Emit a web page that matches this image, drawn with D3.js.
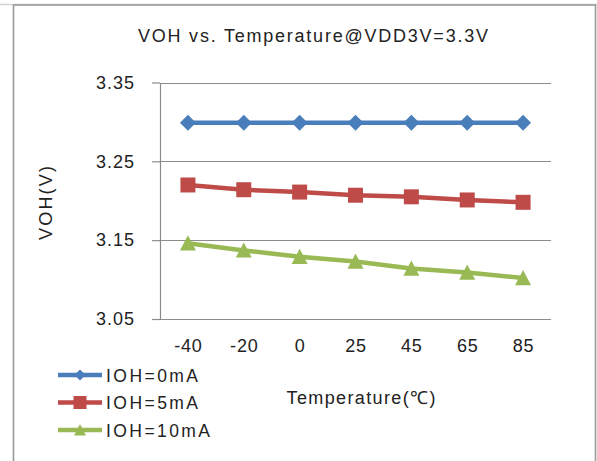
<!DOCTYPE html>
<html>
<head>
<meta charset="utf-8">
<script src="https://cdn.jsdelivr.net/npm/d3@7"></script>
<style>
  body { margin: 0; background: #fff; }
  svg { display: block; font-family: "Liberation Sans", Arial, sans-serif; }
</style>
</head>
<body>
<div id="chart"></div>
<script>
var temps = ["-40", "-20", "0", "25", "45", "65", "85"]
var ioh0 = [3.299, 3.299, 3.299, 3.299, 3.299, 3.299, 3.299]
var ioh5 = [3.220, 3.214, 3.211, 3.207, 3.205, 3.201, 3.198]
var ioh10 = [3.146, 3.137, 3.129, 3.123, 3.114, 3.109, 3.102]
var yTicks = [3.05, 3.15, 3.25, 3.35]
var seriesNames = ["IOH=0mA", "IOH=5mA", "IOH=10mA"]

var series = [
  {name: seriesNames[0], values: ioh0, color: "#4a7ebb", marker: "diamond", legendLen: 92},
  {name: seriesNames[1], values: ioh5, color: "#be4b48", marker: "square", legendLen: 92},
  {name: seriesNames[2], values: ioh10, color: "#98b954", marker: "triangle", legendLen: 104}
]

var width = 597, height = 461
var plot = {left: 160, right: 551, top: 82.5, bottom: 319}

var svg = d3.select("#chart").append("svg")
  .attr("width", width)
  .attr("height", height)

svg.append("rect")
  .attr("width", width)
  .attr("height", height)
  .attr("fill", "#fff")

// outer chart frame
svg.append("line")
  .attr("x1", 0).attr("x2", width)
  .attr("y1", 4.5).attr("y2", 4.5)
  .attr("stroke", "#d4d4d4")
  .attr("stroke-width", 1.5)

svg.append("rect")
  .attr("x", 13.5)
  .attr("y", 5)
  .attr("width", 582)
  .attr("height", 470)
  .attr("fill", "#fff")
  .attr("stroke", "#9a9a9a")
  .attr("stroke-width", 1.6)

var x = d3.scalePoint()
  .domain(temps)
  .range([plot.left, plot.right])
  .padding(0.5)

var y = d3.scaleLinear()
  .domain([3.05, 3.35])
  .range([plot.bottom, plot.top])

// gridlines
svg.append("g")
  .selectAll("line")
  .data(yTicks)
  .join("line")
  .attr("x1", plot.left)
  .attr("x2", plot.right)
  .attr("y1", d => Math.round(y(d)) + 0.5)
  .attr("y2", d => Math.round(y(d)) + 0.5)
  .attr("stroke", "#8c8c8c")
  .attr("stroke-width", 1.2)

var yAxis = d3.axisLeft(y)
  .tickValues(yTicks)
  .tickFormat(d3.format(".2f"))
  .tickSizeInner(8)
  .tickSizeOuter(0)
  .tickPadding(17)

var gy = svg.append("g")
  .attr("transform", "translate(" + plot.left + ",0)")
  .call(yAxis)

gy.select(".domain").attr("stroke", "#8c8c8c").attr("stroke-width", 1.2)
gy.selectAll(".tick line").attr("stroke", "#8c8c8c").attr("stroke-width", 1.2)
gy.selectAll(".tick text")
  .attr("font-size", 18)
  .attr("fill", "#222")
  .style("letter-spacing", "1px")

var xAxis = d3.axisBottom(x)
  .tickSizeInner(0)
  .tickSizeOuter(0)
  .tickPadding(20)

var gx = svg.append("g")
  .attr("transform", "translate(0," + plot.bottom + ")")
  .call(xAxis)

gx.select(".domain").remove()
gx.selectAll(".tick text")
  .attr("font-size", 18)
  .attr("fill", "#222")
  .style("letter-spacing", "0.8px")

function markerPath(type, s) {
  var h = s / 2
  if (type === "diamond") return "M0," + (-h) + "L" + h + ",0L0," + h + "L" + (-h) + ",0Z"
  if (type === "square") return "M" + (-h) + "," + (-h) + "h" + s + "v" + s + "h" + (-s) + "Z"
  return "M0," + (-h) + "L" + h + "," + (h * 0.9) + "L" + (-h) + "," + (h * 0.9) + "Z"
}

var line = d3.line()
  .x((d, i) => x(temps[i]))
  .y(d => y(d))

var markerSize = {diamond: 16, square: 15, triangle: 16}

series.forEach(function(s) {
  var g = svg.append("g")
  g.append("path")
    .datum(s.values)
    .attr("d", line)
    .attr("fill", "none")
    .attr("stroke", s.color)
    .attr("stroke-width", 4.5)
  g.selectAll("path.m")
    .data(s.values)
    .join("path")
    .attr("class", "m")
    .attr("transform", (d, i) => "translate(" + x(temps[i]) + "," + y(d) + ")")
    .attr("d", markerPath(s.marker, markerSize[s.marker]))
    .attr("fill", s.color)
})

// title
svg.append("text")
  .attr("x", 313)
  .attr("y", 42)
  .attr("text-anchor", "middle")
  .attr("font-size", 18)
  .attr("fill", "#222")
  .attr("textLength", 350)
  .attr("lengthAdjust", "spacing")
  .text("VOH vs. Temperature@VDD3V=3.3V")

// axis titles
svg.append("text")
  .attr("transform", "translate(52,203) rotate(-90)")
  .attr("text-anchor", "middle")
  .attr("font-size", 18)
  .attr("fill", "#222")
  .attr("textLength", 74)
  .attr("lengthAdjust", "spacing")
  .text("VOH(V)")

svg.append("text")
  .attr("x", 361)
  .attr("y", 404)
  .attr("text-anchor", "middle")
  .attr("font-size", 18)
  .attr("fill", "#222")
  .attr("textLength", 149)
  .attr("lengthAdjust", "spacing")
  .text("Temperature(\u2103)")

// legend
var legendSize = {diamond: 11, square: 13, triangle: 12}
var legend = svg.append("g")
  .selectAll("g")
  .data(series)
  .join("g")
  .attr("transform", (d, i) => "translate(58," + (375 + i * 27.5) + ")")

legend.append("line")
  .attr("x1", 0).attr("x2", 44)
  .attr("stroke", d => d.color)
  .attr("stroke-width", 4.5)

legend.append("path")
  .attr("transform", "translate(22,0)")
  .attr("d", d => markerPath(d.marker, legendSize[d.marker]))
  .attr("fill", d => d.color)

legend.append("text")
  .attr("x", 48)
  .attr("y", 6.5)
  .attr("font-size", 17.5)
  .attr("fill", "#222")
  .attr("textLength", d => d.legendLen)
  .attr("lengthAdjust", "spacing")
  .text(d => d.name)
</script>
</body>
</html>
